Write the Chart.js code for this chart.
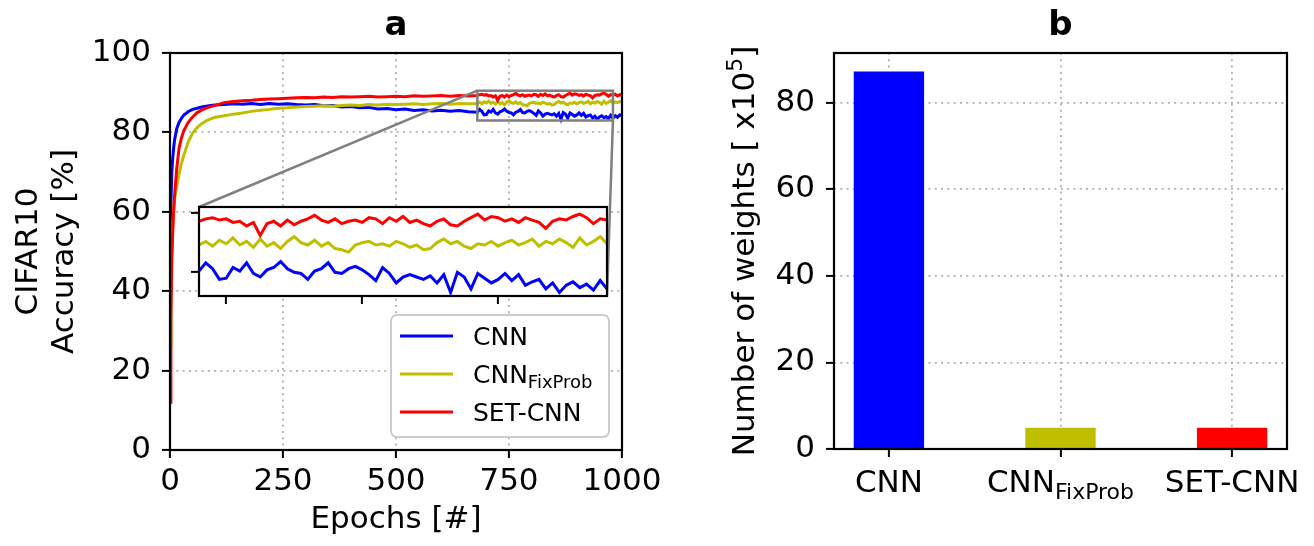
<!DOCTYPE html>
<html>
<head>
<meta charset="utf-8">
<script src="https://cdn.jsdelivr.net/npm/chart.js@4.4.1/dist/chart.umd.min.js"></script>
<style>
  html, body { margin: 0; padding: 0; background: #fff; }
  #wrap { position: relative; width: 1314px; height: 546px; overflow: hidden; }
  canvas { position: absolute; }
  #accChart { left: 0; top: 0; }
  #insetChart { left: 150px; top: 190px; }
  #weightsChart { left: 700px; top: 0; }
</style>
</head>
<body>
<div id="wrap">
  <canvas id="accChart" width="700" height="546"></canvas>
  <canvas id="insetChart" width="480" height="130"></canvas>
  <canvas id="weightsChart" width="614" height="546"></canvas>
</div>
<script>
// ---- data ----
const epochs = [
  0, 2, 4, 6, 8, 10, 15, 20, 25, 30, 40, 50, 60, 70, 80, 90,
  100, 120, 140, 160, 180, 200, 220, 240, 260, 280,
  300, 320, 340, 360, 380, 400, 420, 440, 460, 480,
  500, 520, 540, 560, 580, 600, 620, 640, 660,
  680, 685, 690, 695, 700, 705, 710, 715, 720, 725,
  730, 735, 740, 745, 750, 755, 760, 765, 770, 775,
  780, 785, 790, 795, 800, 805, 810, 815, 820, 825,
  830, 835, 840, 845, 850, 855, 860, 865, 870, 875,
  880, 885, 890, 895, 900, 905, 910, 915, 920, 925,
  930, 935, 940, 945, 950, 955, 960, 965, 970, 975,
  980, 985, 990, 995, 1000
];

const cnnAcc = [
  40, 62, 70, 73.5, 76, 78, 81, 82.5, 83.5, 84.3, 85.2, 85.8, 86.1, 86.4, 86.6, 86.8,
  86.9, 87.0, 87.2, 87.1, 87.3, 87.0, 87.3, 87.1, 87.2, 87.0,
  86.9, 87.0, 86.7, 86.8, 86.4, 86.5, 86.2, 86.3, 85.9, 86.0,
  85.7, 85.9, 85.5, 85.7, 85.4, 85.6, 85.3, 85.5, 85.2,
  85.1, 85.8, 85.3, 84.4, 84.5, 85.4, 85.1, 85.8, 84.9, 84.6,
  85.2, 85.4, 85.9, 85.3, 85.0, 84.9, 84.4, 85.1, 85.3, 85.8,
  85.0, 84.9, 85.3, 85.5, 85.2, 84.8, 84.3, 85.4, 84.9, 84.1,
  84.6, 84.8, 84.6, 84.4, 84.7, 84.1, 84.8, 83.3, 85.0, 84.6,
  83.6, 84.9, 84.5, 84.1, 84.4, 84.9, 84.3, 84.8, 83.9, 84.2,
  84.4, 83.6, 84.1, 83.3, 83.9, 84.2, 83.7, 84.0, 83.5, 84.3,
  83.6, 84.2, 83.8, 84.4, 84.3
];

const fixProbAcc = [
  26, 40, 50, 56, 60, 63, 66.5, 69.5, 72, 74, 77.5, 79.8, 81.2, 82.2, 82.9, 83.4,
  83.8, 84.2, 84.6, 84.9, 85.3, 85.6, 85.8, 86.1, 86.2, 86.4,
  86.5, 86.6, 86.7, 86.6, 86.8, 86.9, 86.8, 87.0, 86.9, 87.1,
  87.0, 87.1, 87.2, 87.0, 87.2, 87.3, 87.1, 87.3, 87.2,
  87.3, 87.6, 87.2, 87.7, 87.4, 87.9, 87.3, 87.6, 87.1, 87.8,
  87.2, 87.5, 87.0, 87.6, 88.0, 87.5, 87.3, 87.7, 87.2, 87.5,
  87.0, 86.9, 86.7, 87.3, 87.5, 87.6, 87.3, 87.4, 87.2, 87.6,
  87.4, 87.1, 87.3, 86.9, 87.0, 87.5, 87.8, 87.4, 87.6, 87.2,
  87.0, 87.4, 87.3, 87.6, 87.2, 87.5, 87.7, 87.3, 87.5, 87.8,
  87.2, 87.6, 87.4, 87.8, 87.5, 87.1, 87.9, 87.3, 87.6, 88.0,
  87.4, 87.7, 87.5, 87.8, 87.6
];

const setCnnAcc = [
  12, 33, 48, 55, 60, 64, 71, 76, 78.5, 80.3, 82.5, 83.9, 85.0, 85.6, 86.1, 86.5,
  86.8, 87.5, 87.8, 88.0, 88.1, 88.3, 88.4, 88.5, 88.6, 88.7,
  88.8, 88.7, 88.9, 88.8, 89.0, 88.9, 89.0, 89.1, 88.9, 89.0,
  89.1, 89.0, 89.2, 89.1, 89.2, 89.3, 89.1, 89.3, 89.2,
  89.3, 89.5, 89.6, 89.4, 89.5, 89.2, 89.3, 88.9, 89.2, 88.1,
  89.1, 89.3, 88.9, 89.4, 89.0, 89.3, 89.5, 89.8, 89.4, 89.2,
  89.5, 89.1, 89.3, 89.4, 89.2, 89.6, 89.5, 89.1, 89.6, 89.3,
  89.7, 89.2, 89.4, 89.1, 88.9, 89.3, 89.5, 89.0, 88.9, 89.3,
  89.6, 89.9, 89.4, 89.7, 89.6, 89.3, 89.5, 89.2, 89.6, 89.4,
  89.2, 88.7, 89.3, 89.5, 89.4, 89.7, 89.9, 89.6, 89.1, 89.5,
  89.4, 89.6, 89.2, 89.5, 89.4
];

// model names as [base, subscript]
const modelNames = [["CNN", ""], ["CNN", "FixProb"], ["SET-CNN", ""]];
const weightsE5 = [87.2, 4.9, 4.9];

const accYTicks = [0, 20, 40, 60, 80, 100];
const epochTicks = [0, 250, 500, 750, 1000];
const insetXTicks = [700, 800, 900];
const insetYTicks = [85, 90];
const insetRange = { xMin: 680, xMax: 980, yMin: 83, yMax: 90.5 };
const weightTicks = [0, 20, 40, 60, 80];

const colors = ["#0000ff", "#bfbf00", "#ff0000"];
const FONT = "'DejaVu Sans', sans-serif";
const TXT = 31;

Chart.defaults.font.family = FONT;
Chart.defaults.color = "#000";
Chart.defaults.animation = false;

const INSET_POS = { left: 150, top: 190 };

// draws text made of parts (for sub/superscripts)
function drawParts(ctx, parts, x, y, align) {
  ctx.save();
  ctx.textBaseline = "alphabetic";
  ctx.textAlign = "left";
  ctx.fillStyle = "#000";
  let total = 0;
  parts.forEach((p) => {
    ctx.font = p.size + "px " + FONT;
    p.w = ctx.measureText(p.t).width;
    total += p.w;
  });
  let cx = align === "center" ? x - total / 2 : x;
  parts.forEach((p) => {
    ctx.font = p.size + "px " + FONT;
    ctx.fillText(p.t, cx, y + (p.dy || 0));
    cx += p.w;
  });
  ctx.restore();
}

function nameParts(name, size, subSize, drop) {
  const parts = [{ t: name[0], size: size }];
  if (name[1]) parts.push({ t: name[1], size: subSize, dy: drop });
  return parts;
}

function drawFrame(ctx, area) {
  ctx.save();
  ctx.strokeStyle = "#000";
  ctx.lineWidth = 2.2;
  ctx.strokeRect(area.left, area.top, area.right - area.left, area.bottom - area.top);
  ctx.restore();
}

function drawPanelTitle(ctx, area, text) {
  ctx.save();
  ctx.font = "bold 34px " + FONT;
  ctx.textAlign = "center";
  ctx.textBaseline = "alphabetic";
  ctx.fillStyle = "#000";
  ctx.fillText(text, (area.left + area.right) / 2, 35);
  ctx.restore();
}

const gridStyle = {
  color: "#b0b0b0",
  lineWidth: 1.8,
  tickLength: 8,
  tickColor: "#000",
  tickWidth: 2,
  offset: false,
};

const plainTick = (v) => String(v);

const makeLine = (i, values, width) => ({
  label: modelNames[i].join(""),
  data: epochs.map((e, k) => ({ x: e, y: values[k] })),
  borderColor: colors[i],
  borderWidth: width,
  pointRadius: 0,
  tension: 0,
  fill: false,
  order: 2 - i,
});

// ---- inset (zoom of the last epochs) ----
const insetChart = new Chart(document.getElementById("insetChart"), {
  type: "line",
  data: {
    datasets: [
      makeLine(0, cnnAcc, 3),
      makeLine(1, fixProbAcc, 3),
      makeLine(2, setCnnAcc, 3),
    ],
  },
  options: {
    responsive: false,
    layout: { padding: { top: 17, right: 23, left: 0, bottom: 0 } },
    scales: {
      x: {
        type: "linear",
        min: insetRange.xMin,
        max: insetRange.xMax,
        afterBuildTicks: (s) => { s.ticks = insetXTicks.map((v) => ({ value: v })); },
        ticks: { display: false },
        grid: { ...gridStyle, drawOnChartArea: false },
        border: { display: false },
        afterFit: (s) => { s.height = 24; },
      },
      y: {
        min: insetRange.yMin,
        max: insetRange.yMax,
        afterBuildTicks: (s) => { s.ticks = insetYTicks.map((v) => ({ value: v })); },
        ticks: { display: false },
        grid: { ...gridStyle, drawOnChartArea: false },
        border: { display: false },
        afterFit: (s) => { s.width = 49; },
      },
    },
    plugins: { legend: { display: false }, tooltip: { enabled: false } },
  },
  plugins: [{
    id: "insetBox",
    beforeDraw(chart) {
      const a = chart.chartArea;
      chart.ctx.save();
      chart.ctx.fillStyle = "#fff";
      chart.ctx.fillRect(a.left, a.top, a.right - a.left, a.bottom - a.top);
      chart.ctx.restore();
    },
    afterDraw(chart) { drawFrame(chart.ctx, chart.chartArea); },
  }],
});

// ---- panel a ----
new Chart(document.getElementById("accChart"), {
  type: "line",
  data: {
    datasets: [
      makeLine(0, cnnAcc, 3),
      makeLine(1, fixProbAcc, 3),
      makeLine(2, setCnnAcc, 3),
    ],
  },
  options: {
    responsive: false,
    layout: { padding: { top: 53, right: 78, left: 0, bottom: 0 } },
    scales: {
      x: {
        type: "linear",
        min: 0,
        max: 1000,
        afterBuildTicks: (s) => { s.ticks = epochTicks.map((v) => ({ value: v })); },
        ticks: { font: { size: TXT }, padding: 5, maxRotation: 0, autoSkip: false, callback: plainTick },
        grid: gridStyle,
        border: { display: false, dash: [2, 4.3] },
        title: {
          display: true,
          text: "Epochs [#]",
          font: { size: TXT },
          padding: { top: 0, bottom: 7 },
        },
        afterFit: (s) => { s.height = 96; },
      },
      y: {
        min: 0,
        max: 100,
        afterBuildTicks: (s) => { s.ticks = accYTicks.map((v) => ({ value: v })); },
        ticks: { font: { size: TXT }, padding: 11, callback: plainTick },
        grid: gridStyle,
        border: { display: false, dash: [2, 4.3] },
        title: {
          display: true,
          text: ["CIFAR10", "Accuracy [%]"],
          font: { size: TXT, lineHeight: 1.17 },
          padding: { top: 11, bottom: 0 },
        },
        afterFit: (s) => { s.width = 170; },
      },
    },
    plugins: { legend: { display: false }, tooltip: { enabled: false } },
  },
  plugins: [{
    id: "accDecor",
    afterDraw(chart) {
      const ctx = chart.ctx;
      const a = chart.chartArea;
      const xs = chart.scales.x, ys = chart.scales.y;
      drawFrame(ctx, a);
      drawPanelTitle(ctx, a, "a");

      // zoomed region and connectors to the inset
      const rx0 = xs.getPixelForValue(insetRange.xMin);
      const rx1 = xs.getPixelForValue(insetRange.xMax);
      const ry0 = ys.getPixelForValue(insetRange.yMax);
      const ry1 = ys.getPixelForValue(insetRange.yMin);
      const ia = insetChart.chartArea;
      ctx.save();
      ctx.strokeStyle = "#808080";
      ctx.lineWidth = 2.5;
      ctx.strokeRect(rx0, ry0, rx1 - rx0, ry1 - ry0);
      ctx.beginPath();
      ctx.moveTo(rx0, ry0);
      ctx.lineTo(INSET_POS.left + ia.left, INSET_POS.top + ia.top);
      ctx.moveTo(rx1, ry1);
      ctx.lineTo(INSET_POS.left + ia.right, INSET_POS.top + ia.bottom);
      ctx.stroke();
      ctx.restore();

      // legend
      const lx = 391, ly = 315, lw = 218, lh = 122;
      ctx.save();
      ctx.fillStyle = "#fff";
      ctx.strokeStyle = "#cccccc";
      ctx.lineWidth = 2;
      ctx.beginPath();
      ctx.roundRect(lx, ly, lw, lh, 6);
      ctx.fill();
      ctx.stroke();
      modelNames.forEach((name, i) => {
        const y = 336 + i * 38;
        ctx.strokeStyle = colors[i];
        ctx.lineWidth = 3;
        ctx.beginPath();
        ctx.moveTo(400, y);
        ctx.lineTo(453, y);
        ctx.stroke();
        drawParts(ctx, nameParts(name, 25, 18, 5), 473, y + 9, "left");
      });
      ctx.restore();
    },
  }],
});

// ---- panel b ----
new Chart(document.getElementById("weightsChart"), {
  type: "bar",
  data: {
    datasets: [{
      data: weightsE5.map((v, i) => ({ x: i, y: v })),
      backgroundColor: colors,
      borderWidth: 0,
      barPercentage: 0.41,
      categoryPercentage: 1,
    }],
  },
  options: {
    responsive: false,
    layout: { padding: { top: 53, right: 27, left: 0, bottom: 0 } },
    scales: {
      x: {
        type: "linear",
        offset: false,
        min: -0.32,
        max: 2.32,
        afterBuildTicks: (s) => { s.ticks = modelNames.map((n, i) => ({ value: i })); },
        ticks: { display: false },
        grid: gridStyle,
        border: { display: false, dash: [2, 4.3] },
        afterFit: (s) => { s.height = 97; },
      },
      y: {
        min: 0,
        max: 91.5,
        afterBuildTicks: (s) => { s.ticks = weightTicks.map((v) => ({ value: v })); },
        ticks: { font: { size: TXT }, padding: 11, callback: plainTick },
        grid: gridStyle,
        border: { display: false, dash: [2, 4.3] },
        afterFit: (s) => { s.width = 134; },
      },
    },
    plugins: { legend: { display: false }, tooltip: { enabled: false } },
  },
  plugins: [{
    id: "weightsDecor",
    afterDraw(chart) {
      const ctx = chart.ctx;
      const a = chart.chartArea;
      drawFrame(ctx, a);
      drawPanelTitle(ctx, a, "b");
      modelNames.forEach((name, i) => {
        const x = chart.scales.x.getPixelForValue(i);
        drawParts(ctx, nameParts(name, TXT, 22, 7), x, a.bottom + 43, "center");
      });
      ctx.save();
      ctx.translate(a.left - 80, (a.top + a.bottom) / 2);
      ctx.rotate(-Math.PI / 2);
      drawParts(ctx, [
        { t: "Number of weights [ x10", size: TXT },
        { t: "5", size: 22, dy: -12 },
        { t: "]", size: TXT },
      ], 0, 0, "center");
      ctx.restore();
    },
  }],
});
</script>
</body>
</html>
